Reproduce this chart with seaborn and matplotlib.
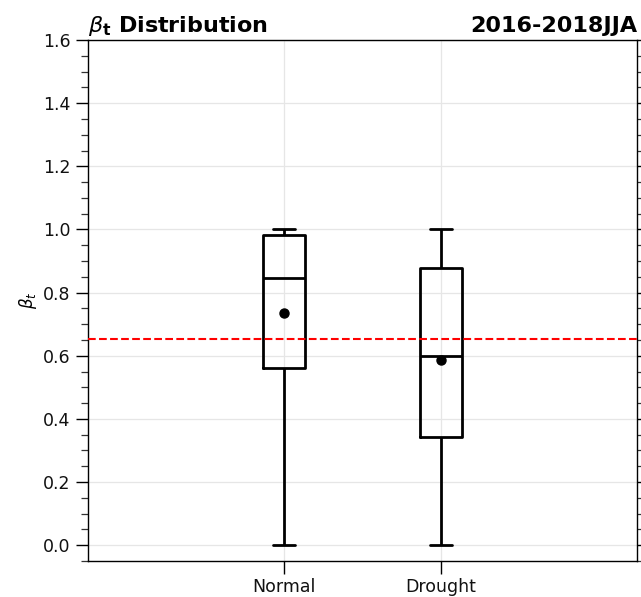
import numpy as np
import pandas as pd
import matplotlib
matplotlib.use("Agg")
import matplotlib.pyplot as plt
from matplotlib.ticker import MultipleLocator
import seaborn as sns

# Sample values chosen so that the box statistics match the reference
categories = ["Normal", "Drought"]
normal_values = [0.0, 0.493, 0.562, 0.80, 0.847, 0.95, 0.982, 0.99, 1.0]
drought_values = [0.0, 0.25, 0.344, 0.48, 0.600, 0.78, 0.877, 0.943, 1.0]
threshold = 0.654
title_left = r"$\beta_\mathbf{t}$ Distribution"
title_right = "2016-2018JJA"
ylabel = r"$\beta_t$"

df = pd.DataFrame({
    "group": [categories[0]] * len(normal_values) + [categories[1]] * len(drought_values),
    "value": normal_values + drought_values,
})

sns.set_theme(style="ticks")
plt.rcParams["font.family"] = ["DejaVu Sans"]
plt.rcParams["text.color"] = "black"

fig = plt.figure(figsize=(6.41, 5.97), dpi=100)
ax = fig.add_axes([88 / 641, (597 - 561) / 597, (637 - 88) / 641, (561 - 40) / 597])

sns.boxplot(
    data=df, x="group", y="value", order=categories, ax=ax,
    fill=False, color="black", linecolor="black", linewidth=2.0,
    width=0.27, whis=(0, 100), showmeans=True,
    meanprops=dict(marker="o", markerfacecolor="black", markeredgecolor="black", markersize=6.5),
)

ax.axhline(threshold, color="red", linestyle="--", linewidth=1.5, zorder=5)

ax.set_xlim(-1.25, 2.25)
ax.set_ylim(-0.05, 1.6)
ax.yaxis.set_major_locator(MultipleLocator(0.2))
ax.yaxis.set_minor_locator(MultipleLocator(0.05))
ax.grid(True, which="major", color="#e6e6e6", linewidth=0.9)
ax.set_axisbelow(True)

for s in ax.spines.values():
    s.set_visible(True)
    s.set_color("black")
    s.set_linewidth(1.0)

ax.tick_params(axis="both", which="major", length=9, width=1, labelsize=12.5, colors="black")
ax.tick_params(axis="y", which="minor", length=5, width=0.9, colors="#333333")
ax.tick_params(axis="y", which="both", left=True, right=True, labelright=False)
ax.tick_params(axis="x", which="minor", bottom=False)
ax.tick_params(axis="both", which="major", labelcolor="#111111")

ax.set_xlabel("")
ax.set_ylabel(ylabel, fontsize=12, color="black", labelpad=3)
ax.set_title(title_left, loc="left", fontsize=16, fontweight="bold", color="black")
ax.set_title(title_right, loc="right", fontsize=16, fontweight="bold", color="black")

fig.savefig("out.png", dpi=100)
